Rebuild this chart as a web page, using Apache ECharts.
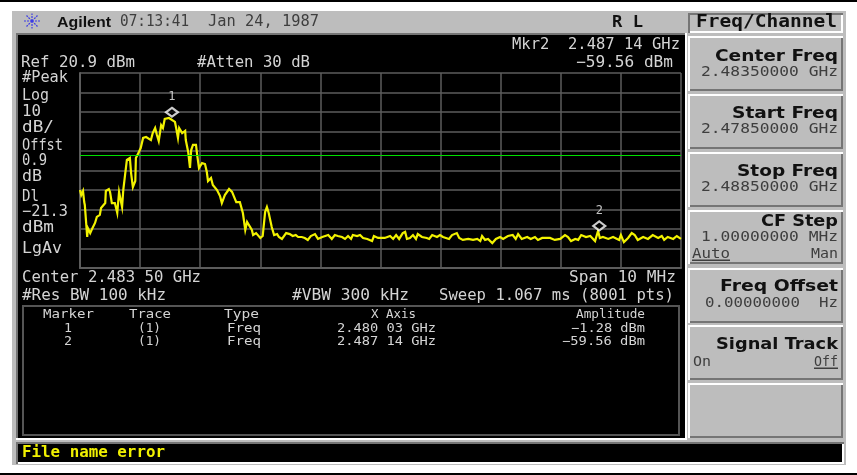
<!DOCTYPE html>
<html>
<head>
<meta charset="utf-8">
<style>html,body{margin:0;padding:0;background:#fff}#c{width:857px;height:475px}</style>
<script src="https://cdn.jsdelivr.net/npm/echarts@6/dist/echarts.min.js"></script>
</head>
<body>
<div id="c"></div>
<script>
// Trace: MHz above the start frequency (2.4785 GHz) and dB relative to the reference level
const traceMHz = [0,.02,.05,.07,.08,.12,.13,.17,.20,.25,.28,.33,.35,.38,.42,.43,.48,.50,.53,.58,.62,.65,.68,.70,.72,.75,.78,.83,.85,.88,.92,.93,.98,
1.01,1.05,1.10,1.18,1.21,1.25,1.28,1.31,1.35,1.38,1.41,1.48,1.51,1.58,1.60,1.63,1.65,1.70,1.75,1.76,1.80,1.83,1.85,1.88,1.93,1.95,1.98,
2.03,2.08,2.11,2.13,2.18,2.21,2.28,2.33,2.36,2.41,2.48,2.53,2.60,2.61,2.66,2.71,2.75,2.78,2.81,2.86,2.88,2.93,
3.00,3.04,3.08,3.11,3.14,3.19,3.23,3.28,3.31,3.36,3.39,3.43,3.49,3.54,3.59,3.63,3.69,3.74,3.79,3.84,3.91,3.96,
4.03,4.08,4.13,4.19,4.24,4.29,4.36,4.41,4.46,4.51,4.54,4.61,4.66,4.71,4.78,4.86,4.89,4.96,
5.07,5.16,5.21,5.26,5.31,5.37,5.41,5.44,5.49,5.54,5.59,5.62,5.69,5.77,5.81,5.86,5.94,5.99,
6.04,6.07,6.14,6.19,6.27,6.31,6.37,6.46,6.54,6.61,6.66,6.69,6.74,6.79,6.86,6.92,6.99,
7.04,7.12,7.20,7.25,7.29,7.35,7.44,7.50,7.57,7.62,7.69,7.74,7.82,7.90,7.99,
8.07,8.12,8.17,8.24,8.29,8.34,8.42,8.49,8.57,8.62,8.65,8.70,8.79,8.87,8.97,
9.00,9.05,9.12,9.18,9.23,9.28,9.37,9.45,9.53,9.62,9.68,9.72,9.78,9.87,9.93,10];
const traceDb = [-60,-62.6,-60.5,-66.2,-67.7,-84.1,-79.5,-82.1,-80,-76.9,-73.8,-72.8,-69.2,-69.2,-66.7,-60.5,-59.5,-61,-66.7,-66.7,-71.8,-61,-61,-68.7,-60,-52.3,-44.6,-43.6,-51.3,-58.5,-55.4,-43.6,-40.5,
-38.5,-33.3,-32.8,-34.4,-30.8,-28.2,-31.8,-34.9,-26.7,-28.2,-23.6,-23.1,-22.1,-25.1,-28.2,-33.3,-28.2,-30.8,-29.7,-34.4,-40.5,-48.7,-39.5,-36.9,-36.9,-42.1,-48.7,
-46.2,-46.7,-50.8,-55.4,-53.8,-57.4,-60,-63.1,-66.7,-62.6,-59.5,-61,-66.2,-67.2,-66.2,-71.8,-80.5,-76.4,-76.4,-80.5,-83.1,-82.1,
-84.6,-83.6,-71.3,-68.7,-71.8,-79,-83.1,-82.6,-84.1,-85.1,-84.1,-82.1,-82.6,-83.6,-83.1,-84.1,-84.1,-84.6,-85.6,-83.6,-82.6,-85.1,
-84.1,-83.6,-83.1,-85.1,-83.1,-83.6,-84.1,-85.1,-83.6,-85.1,-83.1,-83.6,-83.1,-84.6,-85.1,-86.2,-83.6,-84.6,
-84.6,-83.6,-85.1,-83.1,-85.1,-82.1,-81.5,-85.1,-84.6,-83.1,-85.1,-82.6,-84.1,-84.6,-85.1,-83.1,-84.1,-83.1,
-84.1,-83.1,-85.1,-83.1,-82.1,-84.6,-85.6,-85.1,-85.6,-85.1,-86.2,-83.6,-85.6,-85.1,-87.2,-85.1,-84.1,
-85.1,-83.6,-83.1,-85.1,-82.6,-85.1,-84.1,-85.1,-84.1,-85.6,-84.6,-84.6,-84.6,-85.6,-85.1,
-83.1,-84.1,-86.2,-85.1,-85.6,-83.1,-84.1,-83.6,-86.2,-81,-84.6,-84.1,-85.1,-84.1,-85.6,
-83.1,-86.7,-84.6,-82.1,-83.1,-85.6,-84.1,-85.1,-83.1,-84.6,-83.6,-85.6,-84.1,-85.1,-83.6,-85.1];
const refLevelDbm = 20.9;
const displayLineDbm = -21.3;
const markerNames = ['1','2'];
const markerMHz = [1.53, 8.64];
const markerDbm = [-1.28, -59.56];

const MONO='"DejaVu Sans Mono"', SANS='"DejaVu Sans"', LIB='"Liberation Sans"';
const ctx=document.createElement('canvas').getContext('2d');
const els=[];
function rect(x1,y1,x2,y2,fill,z){els.push({type:'rect',silent:true,z:z==null?-5:z,shape:{x:x1,y:y1,width:x2-x1,height:y2-y1},style:{fill}});}
function T(text,x1,x2,y,size,fill,family,weight){
  family=family||MONO;weight=weight||'normal';
  ctx.font=weight+' '+size+'px '+family;
  const w=ctx.measureText(text).width;
  els.push({type:'text',silent:true,z:20,x:x1,y:y+1.5,scaleX:(x2-x1)/w,
    style:{text,fill,fontSize:size,fontFamily:family,fontWeight:weight,align:'left',verticalAlign:'middle',textAlign:'left',textVerticalAlign:'middle'}});
}
function bevel(x1,y1,x2,y2,tl,br,fill){
  rect(x1,y1,x2,y2,tl,-4);
  rect(x1+2,y2-2,x2,y2,br,-3);rect(x2-2,y1+2,x2,y2,br,-3);
  rect(x1+2,y1+2,x2-2,y2-2,fill,-2);
}
// page + instrument body
rect(0,0,857,2,'#000');rect(0,473,857,475,'#000');
rect(12,11,846,465,'#bdbdbd',-6);
// screen
rect(16,33,687,440,'#ffffff',-5);rect(16,33,685,438,'#757575',-4);rect(18,35,685,438,'#000',-3);
// marker table frame
rect(22,305,680,436,'#555',-2);rect(24,307,678,434,'#000',-1);
// status bar
bevel(16,442,844,464,'#757575','#fff','#000');
// soft keys
bevel(688,13,843,33,'#757575','#fff','#bdbdbd');
[[36,91],[94,149],[152,207],[210,264],[268,323],[325,380],[383,438]].forEach(k=>bevel(688,k[0],843,k[1],'#fff','#757575','#bdbdbd'));
// logo
[[0,-7.5],[5.5,-5.5],[8.5,0],[5.5,5.5],[0,7.5],[-5.5,5.5],[-8.5,0],[-5.5,-5.5]].forEach(d=>{
  els.push({type:'line',silent:true,z:20,shape:{x1:32,y1:21,x2:32+d[0],y2:21+d[1]},style:{stroke:'#3c3ce6',lineWidth:1.2,lineDash:[2,1]}});
});
// header
const G='#d4d4d4',S='#3e3e3e';
T('Agilent',57,111,21,15,'#111',LIB,'bold');
T('07:13:41',120,189,21,15,S);
T('Jan 24, 1987',208,319,21,15,S);
T('R L',612,643,21,16,'#111',MONO,'bold');
T('Freq/Channel',696,837,21,17,'#111',MONO,'bold');
// screen annotations
T('Mkr2  2.487 14 GHz',512,680,44,15,G);
T('\u221259.56 dBm',576,673,62,15,G);
T('Ref 20.9 dBm',21,135,62,15,G);
T('#Atten 30 dB',197,310,62,15,G);
[['#Peak',68,77],['Log',49,95],['10',41,111],['dB/',54,127],['Offst',63,145],['0.9',47,160],['dB',42,176],['Dl',39,196],['\u221221.3',68,211],['dBm',54,227],['LgAv',62,248]]
 .forEach(r=>T(r[0],22,r[1],r[2],15,G));
T('Center 2.483 50 GHz',22,201,277,15,G);
T('Span 10 MHz',569,676,277,15,G);
T('#Res BW 100 kHz',22,166,295,15,G);
T('#VBW 300 kHz',292,409,295,15,G);
T('Sweep 1.067 ms (8001 pts)',439,674,295,15,G);
// marker table
const ts=12;
T('Marker',43,94,313,ts,G);T('Trace',129,171,313,ts,G);T('Type',224,259,313,ts,G);T('X Axis',371,416,313,ts,G);T('Amplitude',576,645,313,ts,G);
T('1',64,72,327,ts,G);T('(1)',138,161,327,ts,G);T('Freq',227,261,327,ts,G);T('2.480 03 GHz',337,436,327,ts,G);T('\u22121.28 dBm',571,645,327,ts,G);
T('2',64,72,340,ts,G);T('(1)',138,161,340,ts,G);T('Freq',227,261,340,ts,G);T('2.487 14 GHz',337,436,340,ts,G);T('\u221259.56 dBm',562,645,340,ts,G);
// status
T('File name error',22,165,452,15,'#f0f000',MONO,'bold');
// soft-key text
function key(t,x,y,sub,sx,sy){T(t,x,838,y,16,'#111',SANS,'bold');if(sub)T(sub,sx,838,sy,14.5,S);}
key('Center Freq',715,55,'2.48350000 GHz',701,71);
key('Start Freq',732,112,'2.47850000 GHz',701,128);
key('Stop Freq',737,170,'2.48850000 GHz',701,186);
key('CF Step',761,220,'1.00000000 MHz',701,236);
T('Auto',692,730,253,14.5,S);T('Man',811,838,253,14.5,S);rect(692,259.5,730,261,S,20);
key('Freq Offset',720,285,'0.00000000  Hz',705,302);
key('Signal Track',716,343);
T('On',693,711,361,14.5,S);T('Off',814,838,361,14.5,S);rect(814,367.5,838,369,S,20);

const chart=echarts.init(document.getElementById('c'),null,{renderer:'canvas'});
const gridLine={show:true,lineStyle:{color:'#5c5c5c',width:1.5,type:'solid'}};
chart.setOption({
  animation:false,
  backgroundColor:'#fff',
  graphic:{elements:els},
  grid:{left:80,top:73,width:601,height:195,containLabel:false},
  xAxis:{type:'value',min:0,max:10,interval:1,splitLine:gridLine,axisLine:{show:true,onZero:false,lineStyle:{color:'#5c5c5c',width:2}},axisTick:{show:false},axisLabel:{show:false}},
  yAxis:{type:'value',min:-100,max:0,interval:10,splitLine:gridLine,axisLine:{show:true,onZero:false,lineStyle:{color:'#5c5c5c',width:2}},axisTick:{show:false},axisLabel:{show:false}},
  series:[
    {type:'line',name:'Trace 1',showSymbol:false,silent:true,z:3,
     data:traceMHz.map((m,i)=>[m,traceDb[i]]),
     lineStyle:{color:'#f2f200',width:2.2,join:'miter'},
     markLine:{silent:true,symbol:'none',label:{show:false},animation:false,
       lineStyle:{color:'#00e000',width:1,type:'solid'},
       data:[{yAxis:displayLineDbm-refLevelDbm}]}},
    {type:'scatter',name:'Markers',silent:true,z:5,symbol:'diamond',symbolSize:[12,9],symbolOffset:[0,-4],
     data:markerMHz.map((m,i)=>({value:[m,markerDbm[i]-refLevelDbm],name:markerNames[i]})),
     itemStyle:{color:'#000',borderColor:'#ffffff',borderWidth:2.2},
     label:{show:true,position:'top',distance:1,offset:[0,-3],color:'#f0f0f0',fontSize:12,fontFamily:MONO,formatter:p=>p.name}}
  ]
});
</script>
</body>
</html>
